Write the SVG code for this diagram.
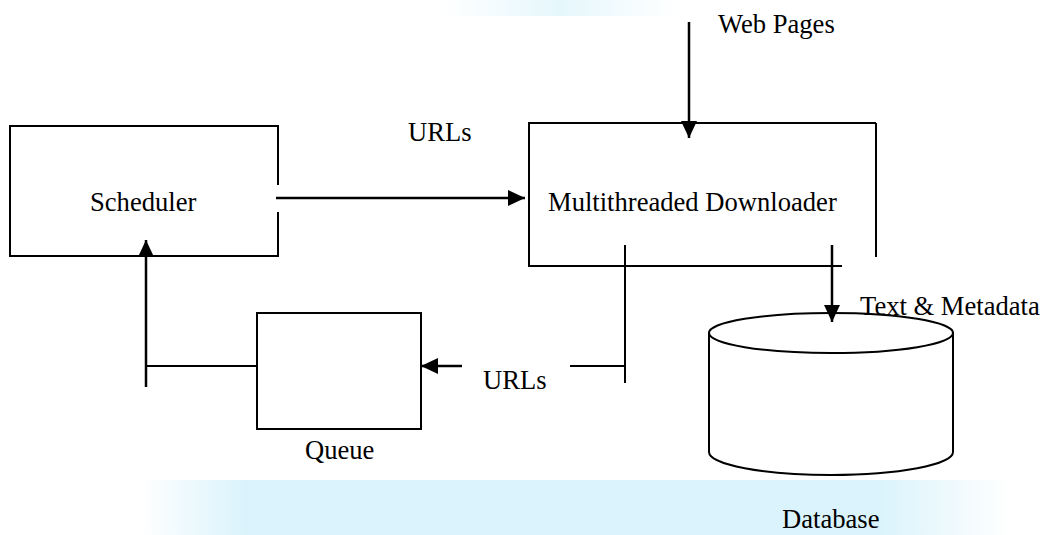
<svg xmlns="http://www.w3.org/2000/svg" width="1045" height="535" viewBox="0 0 1045 535">
  <defs>
    <style>
      .ln { stroke: #000; stroke-width: 2; fill: none; }
      .ar { stroke: #000; stroke-width: 2.5; fill: none; }
      .t { font-family: "Liberation Serif", "Times New Roman", serif; font-size: 26.6px; fill: #000; }
    </style>
    <marker id="ah" viewBox="0 0 17 16" refX="17" refY="8" markerWidth="17" markerHeight="16" markerUnits="userSpaceOnUse" orient="auto">
      <path d="M0,0 L17,8 L0,16 z" fill="#000"/>
    </marker>
    <linearGradient id="wm" x1="0" y1="0" x2="1" y2="0">
      <stop offset="0" stop-color="#d4f1fb" stop-opacity="0"/>
      <stop offset="0.12" stop-color="#d4f1fb" stop-opacity="0.85"/>
      <stop offset="0.85" stop-color="#d4f1fb" stop-opacity="0.85"/>
      <stop offset="1" stop-color="#d4f1fb" stop-opacity="0"/>
    </linearGradient>
    <linearGradient id="wm2" x1="0" y1="0" x2="1" y2="0">
      <stop offset="0" stop-color="#e3f6fc" stop-opacity="0"/>
      <stop offset="0.5" stop-color="#e3f6fc" stop-opacity="0.9"/>
      <stop offset="1" stop-color="#e3f6fc" stop-opacity="0"/>
    </linearGradient>
  </defs>
  <rect width="1045" height="535" fill="#fff"/>
  <g id="watermark">
    <rect x="140" y="480" width="870" height="55" fill="url(#wm)"/>
    <rect x="440" y="0" width="240" height="16" fill="url(#wm2)"/>
  </g>

  <g id="scheduler">
    <path class="ln" d="M278,185 V126 H10 V256 H278 V212"/>
    <text class="t" x="90" y="211">Scheduler</text>
  </g>

  <g id="downloader">
    <path class="ln" d="M876,123 H529 V266 H842 M876,123 V257"/>
    <text class="t" x="548" y="211">Multithreaded Downloader</text>
  </g>

  <g id="queue">
    <rect class="ln" x="257" y="313" width="164" height="116"/>
    <text class="t" x="305" y="459">Queue</text>
  </g>

  <g id="database">
    <path class="ln" d="M709,333 V452 A122,23 0 0 0 953,452 V333"/>
    <ellipse class="ln" cx="831" cy="333" rx="122" ry="20"/>
    <text class="t" x="782" y="528">Database</text>
  </g>

  <g id="connectors">
    <line class="ar" x1="689" y1="22" x2="689" y2="138" marker-end="url(#ah)"/>
    <text class="t" x="718" y="33">Web Pages</text>

    <line class="ar" x1="276" y1="198" x2="525" y2="198" marker-end="url(#ah)"/>
    <text class="t" x="408" y="141">URLs</text>

    <line class="ln" x1="625" y1="245" x2="625" y2="383"/>
    <line class="ln" x1="570" y1="366" x2="625" y2="366"/>
    <line class="ar" x1="462" y1="366" x2="421" y2="366" marker-end="url(#ah)"/>
    <text class="t" x="483" y="389">URLs</text>

    <line class="ln" x1="146" y1="366" x2="257" y2="366"/>
    <line class="ar" x1="146" y1="387" x2="146" y2="240" marker-end="url(#ah)"/>

    <line class="ar" x1="832" y1="245" x2="832" y2="322" marker-end="url(#ah)"/>
    <text class="t" x="860" y="315">Text &amp; Metadata</text>
  </g>
</svg>
